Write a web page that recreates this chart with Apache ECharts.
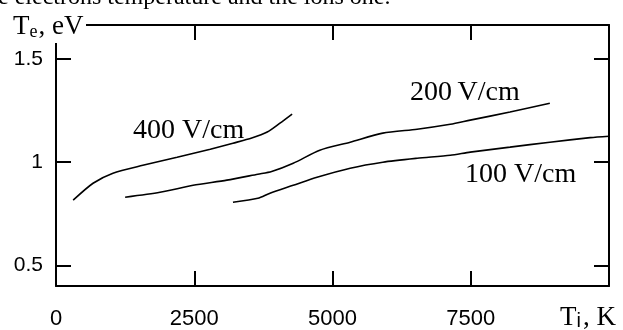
<!DOCTYPE html>
<html><head><meta charset="utf-8">
<script src="https://cdn.jsdelivr.net/npm/echarts@6/dist/echarts.min.js"></script>
<style>html,body{margin:0;padding:0;background:#fff}#c{width:623px;height:330px}</style>
</head><body><div id="c"></div>
<script>
var xTicks = [0, 2500, 5000, 7500];
var yTicks = [0.5, 1, 1.5];

var ti400 = [310, 670, 1030, 1570, 2190, 2790, 3200, 3540, 3820, 4050, 4270];
var te400 = [0.816, 0.898, 0.947, 0.985, 1.024, 1.063, 1.092, 1.117, 1.146, 1.189, 1.233];

var ti200 = [1250, 1880, 2480, 3090, 3650, 3900, 4290, 4770, 5320, 5910, 6530, 7130, 7490, 8210, 8930];
var te200 = [0.830, 0.854, 0.888, 0.913, 0.942, 0.955, 0.995, 1.058, 1.097, 1.141, 1.160, 1.184, 1.204, 1.243, 1.286];

var ti100 = [3200, 3650, 3870, 4290, 4720, 5320, 5910, 6530, 7130, 7490, 8210, 8930, 9660, 10000];
var te100 = [0.806, 0.825, 0.850, 0.888, 0.927, 0.971, 1.000, 1.019, 1.034, 1.049, 1.073, 1.097, 1.119, 1.126];

var seriesNames = ['400 V/cm', '200 V/cm', '100 V/cm'];

function pairs(xs, ys) { return xs.map(function (x, i) { return [x, ys[i]]; }); }

var chart = echarts.init(document.getElementById('c'), null, {renderer: 'canvas'});
var serif = '"Liberation Serif", "Times New Roman", serif';
var sans = '"Liberation Sans", Arial, sans-serif';
var lineStyle = {color: '#000', width: 2};

function xAx(pos, showLabel) {
  return {
    type: 'value', position: pos, min: 0, max: 10000, interval: 2500,
    axisLine: {show: true, onZero: false, lineStyle: lineStyle},
    axisTick: {show: true, inside: true, length: 15, lineStyle: lineStyle, customValues: xTicks},
    axisLabel: {show: showLabel, customValues: xTicks, formatter: function (v) { return String(v); },
      fontFamily: sans, fontSize: 22, color: '#000', margin: 22},
    splitLine: {show: false}
  };
}
function yAx(pos, showLabel) {
  return {
    type: 'value', position: pos, min: 0.4, max: 1.665,
    axisLine: {show: true, onZero: false, lineStyle: lineStyle},
    axisTick: {show: true, inside: true, length: 15, lineStyle: lineStyle, customValues: yTicks},
    axisLabel: {show: showLabel, customValues: yTicks, formatter: function (v) { return String(v); },
      fontFamily: sans, fontSize: 21, color: '#000', margin: 13},
    splitLine: {show: false}
  };
}

var lines = [pairs(ti400, te400), pairs(ti200, te200), pairs(ti100, te100)];

chart.setOption({
  animation: false,
  grid: {left: 56, right: 14, top: 25, bottom: 44, containLabel: false},
  xAxis: [xAx('bottom', true), xAx('top', false)],
  yAxis: [yAx('left', true), yAx('right', false)],
  series: lines.map(function (d, i) {
    return {
      name: seriesNames[i], type: 'line', data: d, smooth: 0.25, symbol: 'none',
      lineStyle: {color: '#000', width: 1.6}, z: 3
    };
  }),
  graphic: [
    {type: 'text', left: -2, top: -14, z: 50, style: {text: 'e electrons temperature and the ions one.', font: '24px ' + serif, fill: '#000'}},
    {type: 'rect', shape: {x: 0, y: 13, width: 86, height: 30}, style: {fill: '#fff'}, z: 100},
    {type: 'text', left: 13, top: 13, z: 101, style: {
      text: '{t|T}{s|e}{t|, eV}', fill: '#000',
      rich: {t: {font: '27px ' + serif, fill: '#000'}, s: {font: '18px ' + serif, fill: '#000', padding: [12, 1, 0, 0]}}
    }},
    {type: 'text', left: 560, top: 304, z: 101, style: {
      text: '{t|T}{s|i}{t|, K}', fill: '#000',
      rich: {t: {font: '27px ' + serif, fill: '#000'}, s: {font: '20px ' + sans, fill: '#000', padding: [8, 2, 0, 0]}}
    }},
    {type: 'text', left: 133, top: 117, z: 60, style: {text: seriesNames[0], font: '28px ' + serif, fill: '#000'}},
    {type: 'text', left: 410, top: 79, z: 60, style: {text: seriesNames[1].replace(' ', '\u2009'), font: '28px ' + serif, fill: '#000'}},
    {type: 'text', left: 465, top: 161, z: 60, style: {text: seriesNames[2], font: '28px ' + serif, fill: '#000'}}
  ]
});
</script>
</body></html>
